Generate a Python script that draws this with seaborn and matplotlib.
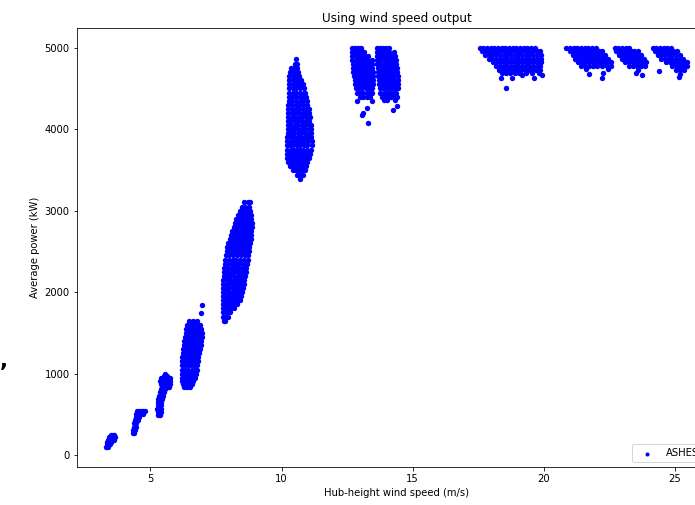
import numpy as np
import pandas as pd
import matplotlib
matplotlib.use("Agg")
import matplotlib.pyplot as plt
import seaborn as sns

# each wind-speed bin: rows of (average power kW, [hub-height wind speeds m/s])
bin_3ms = [
    (100, [3.32, 3.38]),
    (130, [3.33, 3.40, 3.46]),
    (160, [3.35, 3.42, 3.49]),
    (190, [3.38, 3.45, 3.52, 3.62]),
    (220, [3.42, 3.49, 3.56, 3.64]),
    (245, [3.50, 3.57, 3.62]),
]
bin_4ms = [
    (270, [4.33, 4.39]),
    (310, [4.34, 4.41]),
    (350, [4.36, 4.43]),
    (390, [4.38, 4.45]),
    (430, [4.40, 4.47, 4.53]),
    (470, [4.43, 4.50, 4.56]),
    (510, [4.46, 4.53, 4.60, 4.70]),
    (545, [4.50, 4.57, 4.64, 4.71, 4.78]),
]
bin_5ms = [
    (490, [5.28, 5.35]),
    (530, [5.27, 5.34, 5.40]),
    (570, [5.26, 5.33, 5.40]),
    (610, [5.27, 5.34, 5.41]),
    (650, [5.28, 5.35, 5.42]),
    (690, [5.30, 5.37, 5.44]),
    (730, [5.33, 5.40, 5.47]),
    (770, [5.36, 5.43, 5.50]),
    (805, [5.40, 5.47, 5.54]),
    (835, [5.44, 5.51, 5.58, 5.65, 5.72]),
    (870, [5.40, 5.47, 5.54, 5.61, 5.68, 5.74]),
    (905, [5.37, 5.44, 5.51, 5.58, 5.65, 5.72, 5.76]),
    (940, [5.39, 5.46, 5.53, 5.60, 5.67, 5.74]),
    (975, [5.50, 5.57, 5.64]),
    (1000, [5.57]),
]
bin_6ms = [
    (830, [6.26, 6.38, 6.50]),
    (870, [6.23, 6.34, 6.46, 6.57]),
    (910, [6.21, 6.31, 6.42, 6.53, 6.63]),
    (950, [6.20, 6.32, 6.44, 6.56, 6.68]),
    (1000, [6.20, 6.30, 6.41, 6.52, 6.63, 6.73]),
    (1050, [6.21, 6.33, 6.45, 6.57, 6.68, 6.76]),
    (1100, [6.20, 6.31, 6.42, 6.54, 6.66, 6.78]),
    (1150, [6.22, 6.34, 6.46, 6.58, 6.70, 6.80]),
    (1200, [6.22, 6.33, 6.44, 6.56, 6.68, 6.82]),
    (1250, [6.24, 6.36, 6.48, 6.60, 6.72, 6.85]),
    (1300, [6.25, 6.37, 6.49, 6.61, 6.74, 6.88]),
    (1350, [6.27, 6.39, 6.52, 6.65, 6.78, 6.91]),
    (1400, [6.29, 6.41, 6.54, 6.67, 6.80, 6.94]),
    (1450, [6.31, 6.44, 6.57, 6.70, 6.83, 6.95]),
    (1500, [6.34, 6.47, 6.60, 6.73, 6.86, 6.95]),
    (1550, [6.37, 6.50, 6.63, 6.76, 6.88, 6.94]),
    (1600, [6.41, 6.54, 6.67, 6.80, 6.90]),
    (1640, [6.48, 6.62, 6.76]),
    (1740, [6.94]),
    (1840, [6.95]),
]
bin_8ms = [
    (1650, [7.79, 7.86]),
    (1700, [7.78, 7.88, 7.97]),
    (1750, [7.77, 7.87, 7.98, 8.05]),
    (1800, [7.76, 7.86, 7.97, 8.08, 8.18]),
    (1850, [7.76, 7.87, 7.99, 8.11, 8.23, 8.30]),
    (1900, [7.75, 7.86, 7.98, 8.10, 8.22, 8.34, 8.40]),
    (1950, [7.76, 7.88, 8.00, 8.12, 8.24, 8.36, 8.47]),
    (2000, [7.77, 7.89, 8.01, 8.13, 8.25, 8.37, 8.50]),
    (2050, [7.77, 7.89, 8.01, 8.14, 8.27, 8.40, 8.53]),
    (2100, [7.78, 7.90, 8.03, 8.16, 8.29, 8.42, 8.56]),
    (2150, [7.78, 7.91, 8.04, 8.17, 8.30, 8.44, 8.58]),
    (2200, [7.79, 7.92, 8.05, 8.18, 8.32, 8.46, 8.60]),
    (2250, [7.80, 7.93, 8.06, 8.20, 8.34, 8.48, 8.63]),
    (2300, [7.81, 7.95, 8.09, 8.23, 8.37, 8.51, 8.66]),
    (2350, [7.83, 7.97, 8.11, 8.25, 8.39, 8.54, 8.68]),
    (2400, [7.85, 7.99, 8.13, 8.27, 8.42, 8.57, 8.70]),
    (2450, [7.87, 8.01, 8.15, 8.30, 8.45, 8.60, 8.72]),
    (2500, [7.90, 8.04, 8.18, 8.33, 8.48, 8.63, 8.75]),
    (2550, [7.93, 8.07, 8.21, 8.36, 8.51, 8.66, 8.77]),
    (2600, [7.97, 8.11, 8.25, 8.40, 8.55, 8.69, 8.79]),
    (2650, [8.02, 8.16, 8.30, 8.45, 8.60, 8.73, 8.82]),
    (2700, [8.07, 8.21, 8.35, 8.50, 8.65, 8.78, 8.85]),
    (2750, [8.12, 8.26, 8.40, 8.55, 8.70, 8.84]),
    (2800, [8.17, 8.31, 8.46, 8.61, 8.76, 8.87]),
    (2850, [8.22, 8.36, 8.51, 8.66, 8.80, 8.87]),
    (2900, [8.28, 8.42, 8.57, 8.71, 8.84]),
    (2950, [8.34, 8.48, 8.62, 8.76, 8.84]),
    (3000, [8.41, 8.55, 8.69, 8.80]),
    (3050, [8.48, 8.62, 8.76]),
    (3100, [8.56, 8.70, 8.80]),
]
bin_11ms = [
    (3390, [10.72]),
    (3440, [10.58, 10.70, 10.82]),
    (3500, [10.42, 10.54, 10.66, 10.78, 10.88]),
    (3550, [10.32, 10.44, 10.56, 10.68, 10.80, 10.93]),
    (3600, [10.26, 10.38, 10.50, 10.62, 10.74, 10.86, 10.98]),
    (3650, [10.22, 10.34, 10.46, 10.58, 10.70, 10.82, 10.94, 11.04]),
    (3700, [10.21, 10.33, 10.45, 10.57, 10.69, 10.81, 10.93, 11.08]),
    (3750, [10.22, 10.34, 10.46, 10.58, 10.70, 10.82, 10.96, 11.12]),
    (3800, [10.21, 10.33, 10.45, 10.58, 10.71, 10.84, 10.98, 11.14]),
    (3850, [10.22, 10.34, 10.47, 10.60, 10.73, 10.86, 11.00, 11.14]),
    (3900, [10.22, 10.35, 10.48, 10.61, 10.74, 10.88, 11.02, 11.13]),
    (3950, [10.23, 10.36, 10.49, 10.62, 10.75, 10.89, 11.03, 11.12]),
    (4000, [10.23, 10.36, 10.49, 10.62, 10.76, 10.90, 11.04, 11.12]),
    (4050, [10.24, 10.37, 10.50, 10.63, 10.77, 10.91, 11.05, 11.11]),
    (4100, [10.24, 10.37, 10.50, 10.64, 10.78, 10.92, 11.06]),
    (4150, [10.25, 10.38, 10.51, 10.65, 10.79, 10.93, 11.07]),
    (4200, [10.25, 10.38, 10.52, 10.66, 10.80, 10.94, 11.06]),
    (4250, [10.26, 10.39, 10.53, 10.67, 10.81, 10.95, 11.03]),
    (4300, [10.26, 10.40, 10.54, 10.68, 10.82, 10.96]),
    (4350, [10.27, 10.41, 10.55, 10.69, 10.83, 10.96]),
    (4400, [10.27, 10.41, 10.55, 10.69, 10.83, 10.94]),
    (4450, [10.28, 10.42, 10.56, 10.70, 10.84, 10.90]),
    (4500, [10.28, 10.42, 10.56, 10.70, 10.84]),
    (4550, [10.29, 10.42, 10.55, 10.68, 10.80]),
    (4600, [10.30, 10.43, 10.56, 10.68, 10.75]),
    (4650, [10.30, 10.43, 10.55, 10.68]),
    (4700, [10.32, 10.45, 10.57, 10.64]),
    (4750, [10.36, 10.49, 10.60]),
    (4800, [10.50, 10.60]),
    (4860, [10.56]),
]
bin_13ms = [
    (5000, [12.68, 12.80, 12.92, 13.04]),
    (4950, [12.68, 12.80, 12.92, 13.04, 13.14]),
    (4900, [12.70, 12.82, 12.94, 13.06, 13.18, 13.30]),
    (4850, [12.70, 12.82, 12.94, 13.06, 13.18, 13.30, 13.46]),
    (4800, [12.72, 12.84, 12.96, 13.08, 13.20, 13.32, 13.44]),
    (4750, [12.73, 12.85, 12.97, 13.09, 13.21, 13.33, 13.45]),
    (4700, [12.74, 12.86, 12.98, 13.10, 13.22, 13.34, 13.47]),
    (4650, [12.76, 12.88, 13.00, 13.12, 13.24, 13.36, 13.48]),
    (4600, [12.78, 12.90, 13.02, 13.14, 13.26, 13.38, 13.48]),
    (4550, [12.80, 12.92, 13.04, 13.16, 13.28, 13.40, 13.47]),
    (4500, [12.84, 12.96, 13.08, 13.20, 13.32, 13.44]),
    (4450, [12.88, 13.00, 13.12, 13.24, 13.36, 13.46]),
    (4400, [13.00, 13.12, 13.24, 13.36]),
    (4340, [12.87, 13.44]),
    (4260, [13.25]),
    (4200, [13.10]),
    (4170, [13.05]),
    (4080, [13.29]),
]
bin_14ms = [
    (5000, [13.62, 13.74, 13.86, 13.98, 14.10]),
    (4950, [13.63, 13.75, 13.87, 13.99, 14.11, 14.28]),
    (4900, [13.64, 13.76, 13.88, 14.00, 14.12, 14.24, 14.33]),
    (4850, [13.65, 13.77, 13.89, 14.01, 14.13, 14.25, 14.36]),
    (4800, [13.65, 13.77, 13.89, 14.01, 14.13, 14.25, 14.38]),
    (4750, [13.66, 13.78, 13.90, 14.02, 14.14, 14.26, 14.40]),
    (4700, [13.67, 13.79, 13.91, 14.03, 14.15, 14.27, 14.41]),
    (4650, [13.68, 13.80, 13.92, 14.04, 14.16, 14.28, 14.42]),
    (4600, [13.70, 13.82, 13.94, 14.06, 14.18, 14.30, 14.43]),
    (4550, [13.72, 13.84, 13.96, 14.08, 14.20, 14.32, 14.43]),
    (4500, [13.74, 13.86, 13.98, 14.10, 14.22, 14.34, 14.42]),
    (4450, [13.77, 13.89, 14.01, 14.13, 14.25, 14.37]),
    (4400, [13.82, 13.94, 14.06, 14.18, 14.30, 14.40]),
    (4360, [13.90, 14.02, 14.34]),
    (4290, [14.39]),
    (4230, [14.24]),
]
bin_19ms = [
    (5000, [17.55, 17.69, 17.83, 17.97, 18.11, 18.25, 18.39, 18.53, 18.67,
            18.81, 18.95, 19.09, 19.23, 19.37, 19.51, 19.65]),
    (4955, [17.64, 17.78, 17.92, 18.06, 18.20, 18.34, 18.48, 18.62, 18.76,
            18.90, 19.04, 19.18, 19.32, 19.46, 19.60, 19.74, 19.86]),
    (4910, [17.76, 17.90, 18.04, 18.18, 18.32, 18.46, 18.60, 18.74, 18.88,
            19.02, 19.16, 19.30, 19.44, 19.58, 19.72, 19.88]),
    (4865, [17.90, 18.04, 18.18, 18.32, 18.46, 18.60, 18.74, 18.88, 19.02,
            19.16, 19.30, 19.44, 19.58, 19.72, 19.88]),
    (4820, [18.05, 18.19, 18.33, 18.47, 18.61, 18.75, 18.89, 19.03, 19.17,
            19.31, 19.45, 19.59, 19.73, 19.88]),
    (4775, [18.18, 18.32, 18.46, 18.60, 18.74, 18.88, 19.02, 19.16, 19.30,
            19.44, 19.58, 19.72, 19.86]),
    (4730, [18.30, 18.44, 18.58, 18.72, 18.86, 19.00, 19.14, 19.28, 19.42,
            19.56, 19.70, 19.84]),
    (4690, [18.40, 18.56, 18.72, 18.88, 19.05, 19.30, 19.55, 19.80]),
    (4660, [19.18, 19.94]),
    (4625, [18.38, 18.80, 19.64]),
    (4510, [18.54]),
]
bin_22ms = [
    (5000, [20.86, 21.00, 21.14, 21.28, 21.42, 21.56, 21.70, 21.84, 21.98]),
    (4955, [20.98, 21.12, 21.26, 21.40, 21.54, 21.68, 21.82, 21.96, 22.10, 22.22]),
    (4910, [21.10, 21.24, 21.38, 21.52, 21.66, 21.80, 21.94, 22.08, 22.22, 22.34]),
    (4865, [21.20, 21.34, 21.48, 21.62, 21.76, 21.90, 22.04, 22.18, 22.32, 22.45]),
    (4820, [21.30, 21.44, 21.58, 21.72, 21.86, 22.00, 22.14, 22.28, 22.42, 22.55]),
    (4775, [21.40, 21.56, 21.72, 21.88, 22.04, 22.20, 22.40, 22.56]),
    (4735, [21.60, 22.45]),
    (4695, [22.25]),
    (4680, [21.73]),
    (4630, [22.22]),
]
bin_23ms = [
    (5000, [22.70, 22.84, 22.98, 23.12, 23.26]),
    (4955, [22.75, 22.89, 23.03, 23.17, 23.31, 23.45, 23.58]),
    (4910, [22.86, 23.00, 23.14, 23.28, 23.42, 23.56, 23.70]),
    (4865, [22.98, 23.12, 23.26, 23.40, 23.54, 23.68, 23.82]),
    (4820, [23.10, 23.24, 23.38, 23.52, 23.66, 23.80, 23.90]),
    (4775, [23.25, 23.40, 23.55, 23.70, 23.85]),
    (4730, [23.60]),
    (4690, [23.50]),
    (4660, [23.75]),
]
bin_25ms = [
    (5000, [24.15, 24.29, 24.43, 24.57, 24.71, 24.85]),
    (4955, [24.22, 24.36, 24.50, 24.64, 24.78, 24.92, 25.06]),
    (4910, [24.34, 24.48, 24.62, 24.76, 24.90, 25.04, 25.18]),
    (4865, [24.48, 24.62, 24.76, 24.90, 25.04, 25.18, 25.32]),
    (4820, [24.65, 24.79, 24.93, 25.07, 25.21, 25.35, 25.44]),
    (4775, [24.88, 25.02, 25.16, 25.30, 25.44]),
    (4730, [25.05, 25.20, 25.35]),
    (4720, [24.39]),
    (4680, [25.20]),
    (4640, [25.15]),
]

bins = [bin_3ms, bin_4ms, bin_5ms, bin_6ms, bin_8ms, bin_11ms,
        bin_13ms, bin_14ms, bin_19ms, bin_22ms, bin_23ms, bin_25ms]

records = []
for b in bins:
    for power, speeds in b:
        for ws in speeds:
            records.append((ws, power))
df = pd.DataFrame(records, columns=['wind_speed', 'power'])

W, H, DPI = 695, 505, 72
fig = plt.figure(figsize=(W / DPI, H / DPI), dpi=DPI)
# axes runs past the right edge of the figure, as in the cropped original
ax = fig.add_axes([76.5 / W, 1 - 467.3 / H, 640.5 / W, 439 / H])

sns.scatterplot(data=df, x='wind_speed', y='power', color='blue', s=29,
                linewidth=0, label='ASHES', legend=False, ax=ax)

ax.set_xlim(2.18, 26.6)
ax.set_ylim(-150, 5238)
ax.set_xticks([5, 10, 15, 20, 25])
ax.set_yticks([0, 1000, 2000, 3000, 4000, 5000])
ax.set_xlabel('Hub-height wind speed (m/s)')
ax.set_ylabel('Average power (kW)')
ax.set_title('Using wind speed output')
leg = ax.legend(loc='lower left', bbox_to_anchor=(0.8595, 0.0),
                handlelength=2.2, markerscale=0.75)

fig.text(0.0, 0.273, ',', fontsize=21, fontweight='bold', va='baseline', ha='left')

fig.savefig('out.png', dpi=DPI)
